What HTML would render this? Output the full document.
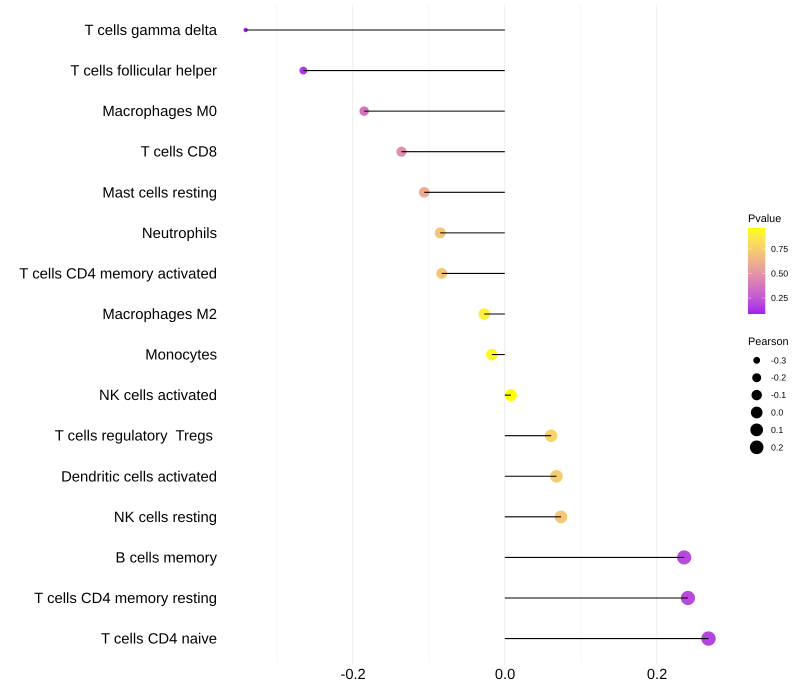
<!DOCTYPE html>
<html lang="en">
<head>
<meta charset="utf-8">
<title>Immune cell correlation lollipop chart</title>
<style>
  html, body { margin: 0; padding: 0; background: #fff; }
  svg { display: block; font-family: "Liberation Sans", Arial, sans-serif; }
  text { text-rendering: geometricPrecision; }
</style>
</head>
<body>
<svg id="chart" width="800" height="700" viewBox="0 0 800 700" xmlns="http://www.w3.org/2000/svg">
  <defs>
    <linearGradient id="pvalue-gradient" x1="0" y1="1" x2="0" y2="0"></linearGradient>
  </defs>
  <rect width="800" height="700" fill="#ffffff"></rect>
  <g id="grid"></g>
  <g id="rows"></g>
  <g id="y-axis"></g>
  <g id="x-axis"></g>
  <g id="legend-color">
    <text x="748" y="222" font-size="10.9" fill="#000">Pvalue</text>
    <rect x="748" y="228" width="17.3" height="86" fill="url(#pvalue-gradient)"></rect>
  </g>
  <g id="legend-size">
    <text x="748" y="345" font-size="10.9" fill="#000">Pearson</text>
  </g>
</svg>
<script>
const cellTypes = ["T cells gamma delta", "T cells follicular helper", "Macrophages M0", "T cells CD8", "Mast cells resting", "Neutrophils", "T cells CD4 memory activated", "Macrophages M2", "Monocytes", "NK cells activated", "T cells regulatory  Tregs ", "Dendritic cells activated", "NK cells resting", "B cells memory", "T cells CD4 memory resting", "T cells CD4 naive"];
const pearsonValues = [-0.341, -0.265, -0.185, -0.136, -0.106, -0.085, -0.083, -0.027, -0.017, 0.008, 0.061, 0.068, 0.074, 0.236, 0.241, 0.268];
const pValues = [0.09, 0.15, 0.35, 0.48, 0.6, 0.71, 0.71, 0.9, 0.93, 0.964, 0.77, 0.74, 0.72, 0.2, 0.2, 0.18];
const majorTicks = [-0.2, 0.0, 0.2];
const minorTicks = [-0.3, -0.1, 0.1];
const colorLegendTicks = [0.25, 0.5, 0.75];
const sizeLegendValues = [-0.3, -0.2, -0.1, 0.0, 0.1, 0.2];
const colorDomain = [0.087, 0.964];

const NS = "http://www.w3.org/2000/svg";
const xScale = v => 504.8 + v * 760;
const yScale = i => 30 + i * 40.57;
const colorBarY = p => 314 - (p - colorDomain[0]) / (colorDomain[1] - colorDomain[0]) * 86;

function radius(v) {
  const lo = Math.min(...pearsonValues);
  const hi = Math.max(...pearsonValues);
  const t = Math.max(0, (v - lo) / (hi - lo));
  return 2.1 + 5 * Math.sqrt(t);
}

function toLab(rgb) {
  const l = rgb.map(c => { c /= 255; return c > 0.04045 ? Math.pow((c + 0.055) / 1.055, 2.4) : c / 12.92; });
  const xyz = [
    (0.4124 * l[0] + 0.3576 * l[1] + 0.1805 * l[2]) / 0.95047,
    0.2126 * l[0] + 0.7152 * l[1] + 0.0722 * l[2],
    (0.0193 * l[0] + 0.1192 * l[1] + 0.9505 * l[2]) / 1.08883
  ].map(c => c > 0.008856 ? Math.cbrt(c) : 7.787 * c + 16 / 116);
  return [116 * xyz[1] - 16, 500 * (xyz[0] - xyz[1]), 200 * (xyz[1] - xyz[2])];
}
function fromLab(lab) {
  const fy = (lab[0] + 16) / 116, fx = fy + lab[1] / 500, fz = fy - lab[2] / 200;
  const [x, y, z] = [fx, fy, fz].map(f => f * f * f > 0.008856 ? f * f * f : (f - 16 / 116) / 7.787);
  const X = x * 0.95047, Z = z * 1.08883;
  const l = [
    3.2406 * X - 1.5372 * y - 0.4986 * Z,
    -0.9689 * X + 1.8758 * y + 0.0415 * Z,
    0.0557 * X - 0.204 * y + 1.057 * Z
  ];
  const c = l.map(u => {
    u = Math.min(1, Math.max(0, u));
    return Math.round(255 * (u > 0.0031308 ? 1.055 * Math.pow(u, 1 / 2.4) - 0.055 : 12.92 * u));
  });
  return "rgb(" + c.join(",") + ")";
}
const labLow = toLab([160, 32, 240]);
const labHigh = toLab([255, 255, 0]);
function pColor(p) {
  const t = Math.min(1, Math.max(0, (p - colorDomain[0]) / (colorDomain[1] - colorDomain[0])));
  return fromLab(labLow.map((a, i) => a + (labHigh[i] - a) * t));
}

function make(tag, attrs, parent) {
  const el = document.createElementNS(NS, tag);
  for (const k in attrs) el.setAttribute(k, attrs[k]);
  parent.appendChild(el);
  return el;
}

const grid = document.getElementById("grid");
minorTicks.forEach(t => {
  const el = make("line", { x1: xScale(t), x2: xScale(t), y1: 5, y2: 662, stroke: "#f4f4f4", "stroke-width": 0.8 }, grid);
  
  
});
majorTicks.forEach(t => {
  const el = make("line", { x1: xScale(t), x2: xScale(t), y1: 5, y2: 665, stroke: "#ededed", "stroke-width": 1 }, grid);
  
  
});

const rows = document.getElementById("rows");
const yAxis = document.getElementById("y-axis");
cellTypes.forEach((name, i) => {
  const y = yScale(i);
  const cx = xScale(pearsonValues[i]);
  const dot = make("circle", { cx: cx, cy: y, r: radius(pearsonValues[i]) + 0.1, fill: pColor(pValues[i]) }, rows);
  
  
  const stem = make("line", { x1: xScale(0), x2: cx, y1: y, y2: y, stroke: "#000", "stroke-width": 1.07 }, rows);
  
  
  const label = make("text", { x: 217, y: y + 5, "text-anchor": "end", "font-size": 14.85, fill: "#000" }, yAxis);
  
  
  label.setAttribute("xml:space", "preserve");
  label.style.whiteSpace = "pre";
  label.textContent = name;
});

const xAxis = document.getElementById("x-axis");
majorTicks.forEach(t => {
  const label = make("text", { x: xScale(t) + 0.3, y: 679, "text-anchor": "middle", "font-size": 14.67, fill: "#000" }, xAxis);
  
  
  label.textContent = t.toFixed(1);
});

const gradient = document.getElementById("pvalue-gradient");
for (let s = 0; s <= 20; s++) {
  const p = colorDomain[0] + (colorDomain[1] - colorDomain[0]) * s / 20;
  make("stop", { offset: (s * 5) + "%", "stop-color": pColor(p) }, gradient);
}

const legendColor = document.getElementById("legend-color");
colorLegendTicks.forEach(t => {
  const y = colorBarY(t);
  const left = make("line", { x1: 748, x2: 751.5, y1: y, y2: y, stroke: "#fff", "stroke-opacity": 0.7, "stroke-width": 0.6 }, legendColor);
  
  
  const right = make("line", { x1: 761.8, x2: 765.3, y1: y, y2: y, stroke: "#fff", "stroke-opacity": 0.7, "stroke-width": 0.6 }, legendColor);
  
  
  const label = make("text", { x: 771, y: y + 3, "font-size": 8.8, fill: "#000" }, legendColor);
  
  
  label.textContent = t.toFixed(2);
});

const legendSize = document.getElementById("legend-size");
sizeLegendValues.forEach((v, i) => {
  const y = 360.3 + i * 17.4;
  const key = make("circle", { cx: 756.7, cy: y, r: radius(v), fill: "#000" }, legendSize);
  
  
  const label = make("text", { x: 771, y: y + 3, "font-size": 8.8, fill: "#000" }, legendSize);
  
  
  label.textContent = v.toFixed(1);
});
</script>
</body>
</html>
